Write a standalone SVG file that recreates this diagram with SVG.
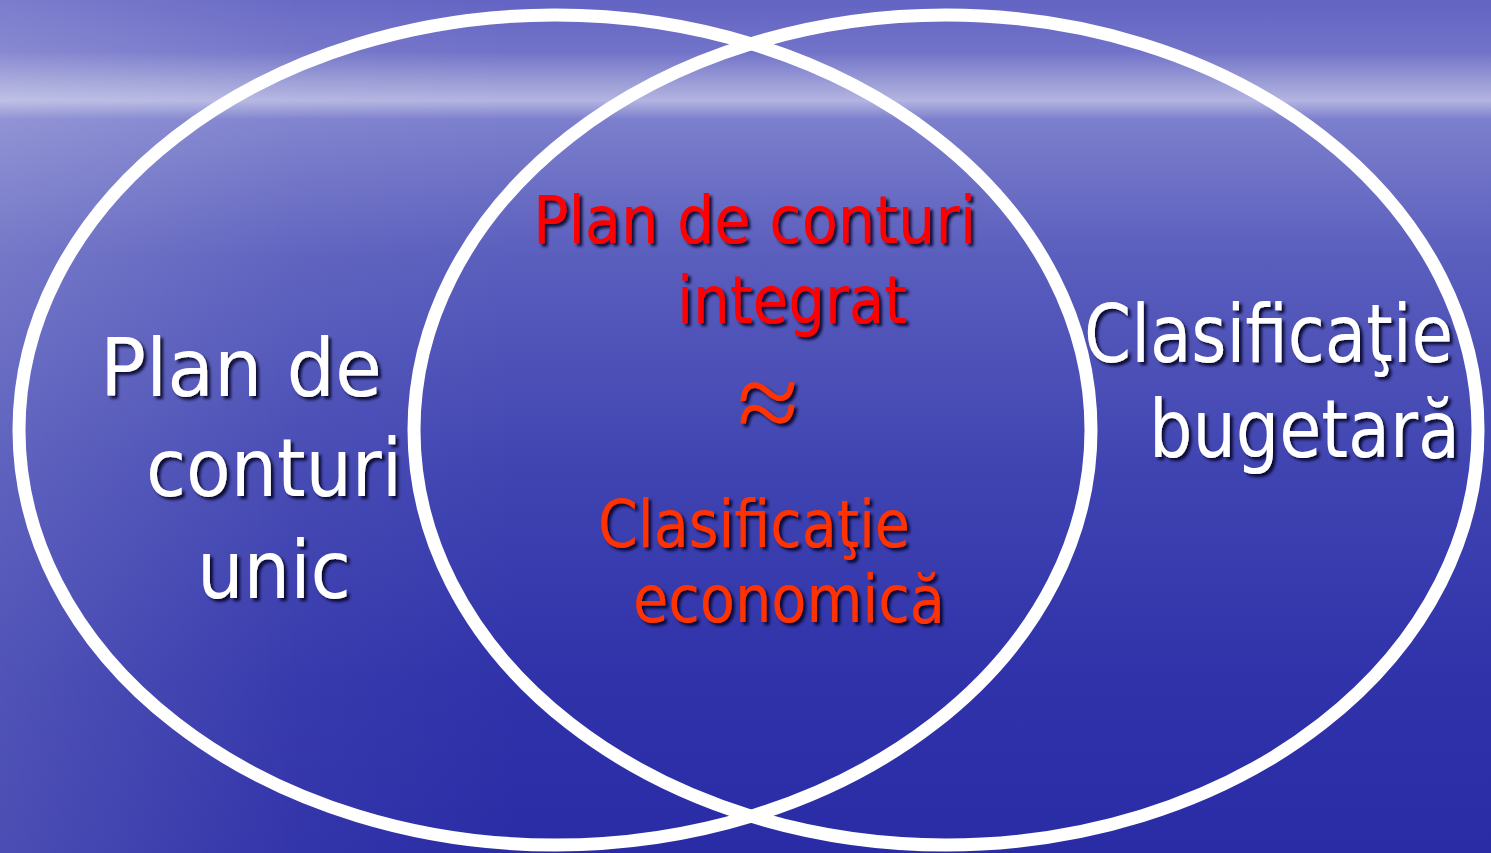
<svg xmlns="http://www.w3.org/2000/svg" width="1491" height="853" viewBox="0 0 1491 853">
  <defs>
    <linearGradient id="sky" x1="0" y1="0" x2="0" y2="1">
      <stop offset="0" stop-color="#6364c3"/>
      <stop offset="0.06" stop-color="#7172c8"/>
      <stop offset="0.1" stop-color="#9fa1d8"/>
      <stop offset="0.118" stop-color="#b3b4e1"/>
      <stop offset="0.14" stop-color="#7c7fcc"/>
      <stop offset="0.3" stop-color="#5a5ebd"/>
      <stop offset="0.55" stop-color="#4044b1"/>
      <stop offset="0.8" stop-color="#2f32a9"/>
      <stop offset="1" stop-color="#2a2ca6"/>
    </linearGradient>
    <linearGradient id="glow" x1="0" y1="0" x2="1" y2="0">
      <stop offset="0" stop-color="#ffffff" stop-opacity="0.16"/>
      <stop offset="0.2" stop-color="#ffffff" stop-opacity="0.04"/>
      <stop offset="0.35" stop-color="#ffffff" stop-opacity="0"/>
    </linearGradient>
    <filter id="shadow" x="-10%" y="-20%" width="130%" height="150%">
      <feGaussianBlur in="SourceAlpha" stdDeviation="1.5"/>
      <feOffset dx="3" dy="3" result="b"/>
      <feFlood flood-color="#000020" flood-opacity="0.85"/>
      <feComposite in2="b" operator="in"/>
      <feMerge>
        <feMergeNode/>
        <feMergeNode in="SourceGraphic"/>
      </feMerge>
    </filter>
  </defs>
  <style>
    .ring { fill: none; stroke: #ffffff; stroke-width: 13; }
    .t { font-family: "DejaVu Sans Condensed", "DejaVu Sans", "Liberation Sans", sans-serif; filter: url(#shadow); }
    .w { fill: #ffffff; font-size: 80px; }
    .r1 { fill: #ff0000; font-size: 66px; }
    .r2 { fill: #ff3300; font-size: 66px; }
    .approx { fill: #ff3300; font-family: "Liberation Serif", serif; font-size: 112px; filter: url(#shadow); }
  </style>
  <rect x="0" y="0" width="1491" height="853" fill="url(#sky)"/>
  <rect x="0" y="0" width="1491" height="853" fill="url(#glow)"/>

  <g id="set-left">
    <ellipse class="ring" cx="555" cy="430" rx="536" ry="415"/>
  </g>
  <g id="set-right">
    <ellipse class="ring" cx="946" cy="430" rx="532" ry="415"/>
  </g>

  <g id="label-left" class="t w">
    <text x="100" y="396" textLength="282" lengthAdjust="spacingAndGlyphs">Plan de</text>
    <text x="146" y="496" textLength="256" lengthAdjust="spacingAndGlyphs">conturi</text>
    <text x="197" y="598" textLength="154" lengthAdjust="spacingAndGlyphs">unic</text>
  </g>

  <g id="label-right" class="t w">
    <text x="1084" y="362" textLength="369" lengthAdjust="spacingAndGlyphs">Clasificaţie</text>
    <text x="1149" y="457" textLength="311" lengthAdjust="spacingAndGlyphs">bugetară</text>
  </g>

  <g id="intersection">
    <text class="t r1" x="533" y="243" textLength="443" lengthAdjust="spacingAndGlyphs">Plan de conturi</text>
    <text class="t r1" x="677" y="323" textLength="230" lengthAdjust="spacingAndGlyphs">integrat</text>
    <text class="approx" x="768" y="440" text-anchor="middle">≈</text>
    <text class="t r2" x="598" y="547" textLength="312" lengthAdjust="spacingAndGlyphs">Clasificaţie</text>
    <text class="t r2" x="633" y="622" textLength="312" lengthAdjust="spacingAndGlyphs">economică</text>
  </g>
</svg>
